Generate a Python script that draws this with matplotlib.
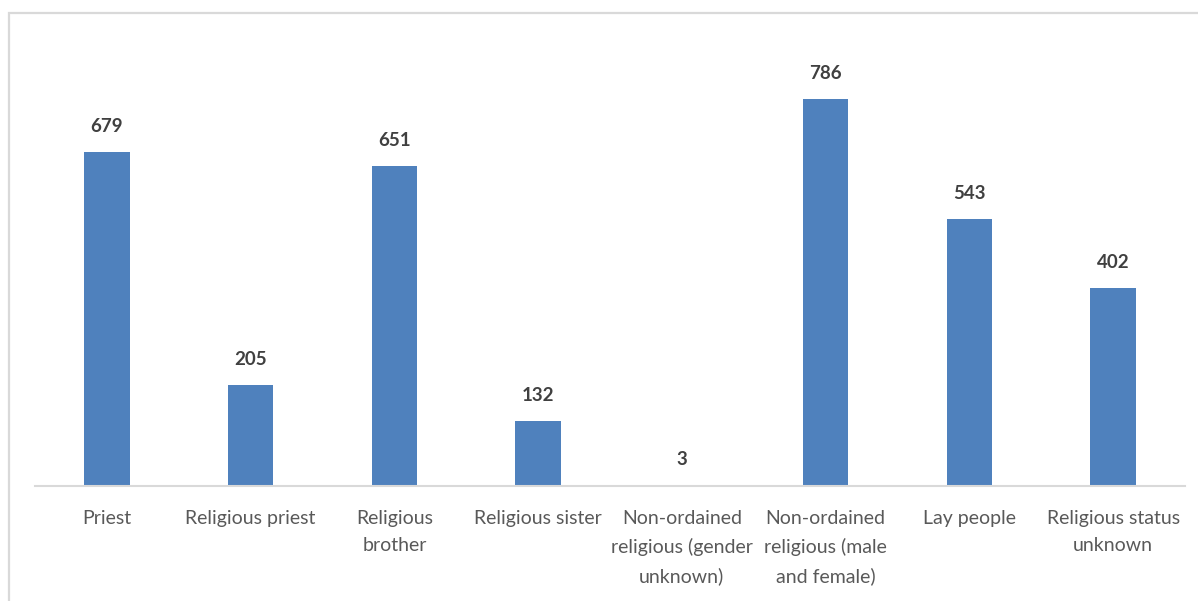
import matplotlib
matplotlib.use("Agg")
import matplotlib.pyplot as plt
from matplotlib.patches import Rectangle

categories = ["Priest", "Religious priest", "Religious\nbrother", "Religious sister",
              "Non-ordained\nreligious (gender\nunknown)", "Non-ordained\nreligious (male\nand female)",
              "Lay people", "Religious status\nunknown"]
values = [679, 205, 651, 132, 3, 786, 543, 402]

plt.rcParams['font.family'] = ['Lato', 'DejaVu Sans']

W, H = 1198, 601
fig = plt.figure(figsize=(W / 100, H / 100), dpi=100)

# outer chart border (extends past the right/bottom edges)
fig.patches.append(Rectangle((9 / W, 0 - 0.05), 1.2, 1 - 13 / H + 0.05,
                             transform=fig.transFigure, fill=False,
                             edgecolor="#d9d9d9", linewidth=1.6, zorder=0))

ax = fig.add_axes([35 / W, 1 - 486 / H, (1185 - 35) / W, (486 - 43) / H])
x = range(len(categories))
ax.bar(x, values, width=0.315, color="#4f81bd", zorder=2)
ax.set_xlim(-0.5, len(categories) - 0.5)
ax.set_ylim(0, 900)

for xi, v in zip(x, values):
    ax.annotate(str(v), (xi, v), xytext=(0, 14.4), textcoords="offset points",
                ha="center", va="baseline", fontsize=13.5, fontweight="bold",
                color="#404040")

for s in ["top", "left", "right"]:
    ax.spines[s].set_visible(False)
ax.spines["bottom"].set_color("#d9d9d9")
ax.spines["bottom"].set_linewidth(1.5)
ax.set_yticks([])
ax.set_xticks(list(x))
ax.set_xticklabels(categories, fontsize=14, color="#595959", linespacing=1.72,
                   multialignment="center")
ax.tick_params(axis="x", length=0, pad=17.5)

fig.savefig("out.png", dpi=100)
